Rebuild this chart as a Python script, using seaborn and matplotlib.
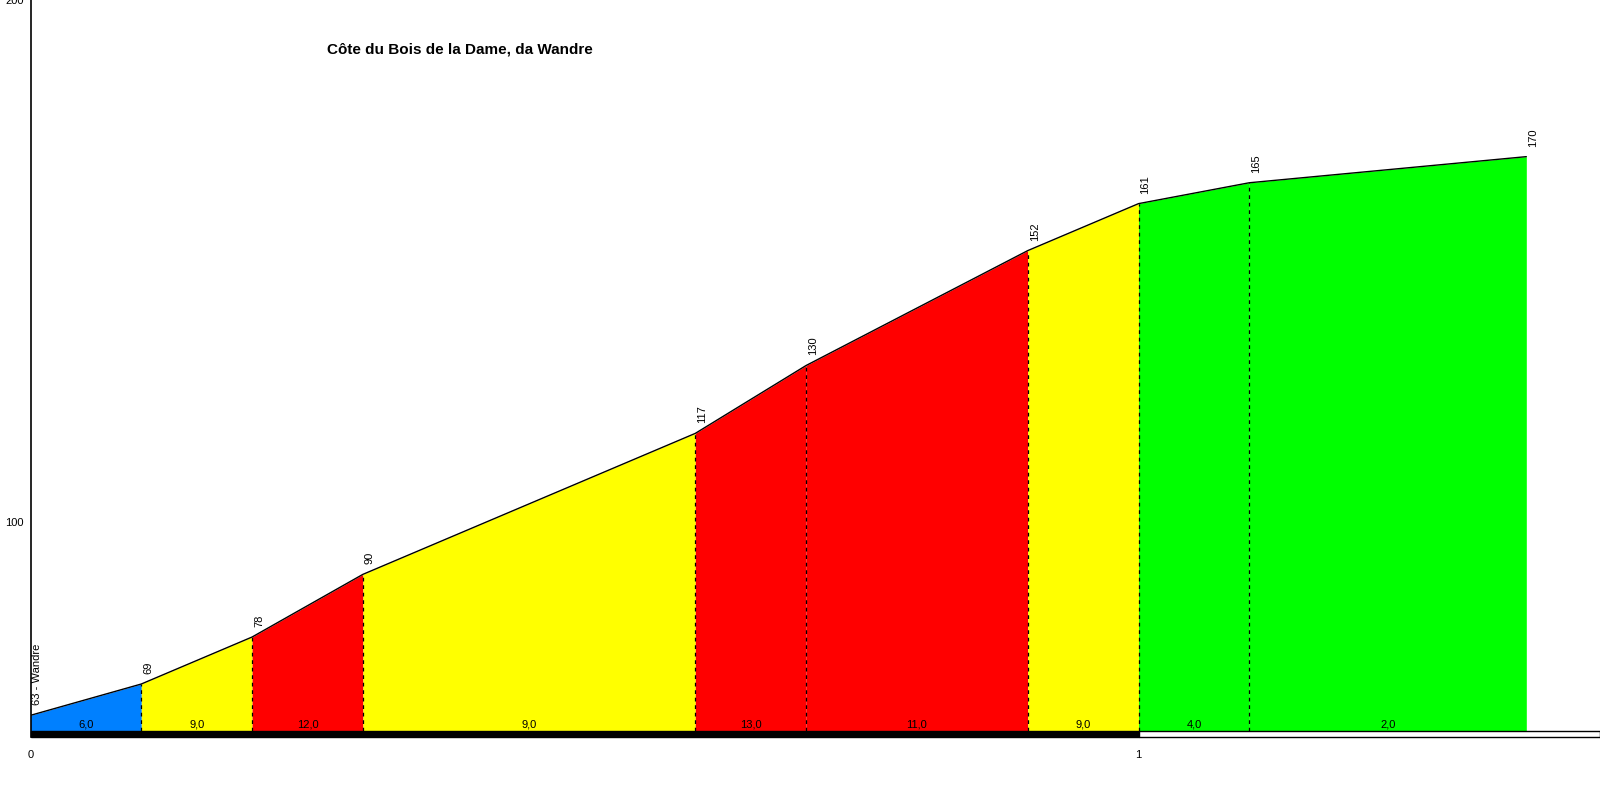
"""Climb profile: Côte du Bois de la Dame, da Wandre."""

import matplotlib.pyplot as plt
import pandas as pd
import seaborn as sns
from matplotlib.patches import Rectangle

# profile points (km, m)
distances = [0.0, 0.1, 0.2, 0.3, 0.6, 0.7, 0.9, 1.0, 1.1, 1.35]
elevations = [63, 69, 78, 90, 117, 130, 152, 161, 165, 170]
point_labels = ["63 - Wandre", "69", "78", "90", "117", "130", "152", "161", "165", "170"]
# gradient of each segment (%)
gradients = [6.0, 9.0, 12.0, 9.0, 13.0, 11.0, 9.0, 4.0, 2.0]
km_ticks = [0, 1]
elev_ticks = [100, 200]

TITLE = "Côte du Bois de la Dame, da Wandre"


def grade_color(g: float) -> str:
    if g < 5:
        return "#00FF00"
    if g < 7:
        return "#0080FF"
    if g < 10:
        return "#FFFF00"
    return "#FF0000"


sns.set_style("white")
plt.rcParams["font.family"] = ["Liberation Sans", "DejaVu Sans"]
plt.rcParams["text.color"] = "black"
plt.rcParams["xtick.labelcolor"] = "black"
plt.rcParams["ytick.labelcolor"] = "black"

df = pd.DataFrame({"km": distances, "elev": elevations})

base = 60
bar_bottom = 58.85
xmax = 1.4165

fig = plt.figure(figsize=(16, 8), dpi=100)
ax = fig.add_axes([30.5 / 1600, 63 / 800, 1569.5 / 1600, 737 / 800])

for i, g in enumerate(gradients):
    seg = df.iloc[i : i + 2]
    ax.fill_between(seg["km"], base, seg["elev"], color=grade_color(g), linewidth=0)
    ax.text(
        seg["km"].mean(), base + 0.3, f"{g:.1f}".replace(".", ","),
        ha="center", va="bottom", fontsize=8, color="black",
    )

sns.lineplot(data=df, x="km", y="elev", color="black", linewidth=1, ax=ax)

# dashed separators between segments
for x, y in zip(distances[1:-1], elevations[1:-1]):
    ax.plot([x, x], [base, y], color="black", linestyle=(0, (3, 3)), linewidth=0.9)

for x, y, lab in zip(distances, elevations, point_labels):
    ax.annotate(
        lab, (x, y), xytext=(7, 10), textcoords="offset pixels",
        rotation=90, ha="center", va="bottom", fontsize=8, color="black",
    )

# km bar
ax.add_patch(Rectangle((0, bar_bottom), 1, base - bar_bottom, facecolor="black",
                       edgecolor="black", linewidth=1, clip_on=False))
ax.add_patch(Rectangle((1, bar_bottom), xmax - 1, base - bar_bottom, facecolor="white",
                       edgecolor="black", linewidth=1, clip_on=False))

ax.set_xlim(0, xmax)
ax.set_ylim(bar_bottom, 200)
ax.set_xticks(km_ticks)
ax.set_xticklabels([str(k) for k in km_ticks])
ax.set_yticks(elev_ticks)
ax.set_yticklabels([str(e) for e in elev_ticks])
ax.tick_params(axis="x", length=0, pad=9, labelsize=8, labelcolor="black")
ax.tick_params(axis="y", direction="in", length=3, color="red", width=1, pad=5,
               labelsize=8, labelcolor="black")
ax.set_xlabel("")
ax.set_ylabel("")
for side in ["top", "right", "bottom"]:
    ax.spines[side].set_visible(False)
ax.spines["left"].set_color("black")
ax.spines["left"].set_linewidth(1.2)

fig.text(327 / 1600, 1 - 49 / 800, TITLE, ha="left", va="center",
         fontsize=11, fontweight="bold", color="black")

fig.savefig("out.png", dpi=100)
plt.close(fig)
